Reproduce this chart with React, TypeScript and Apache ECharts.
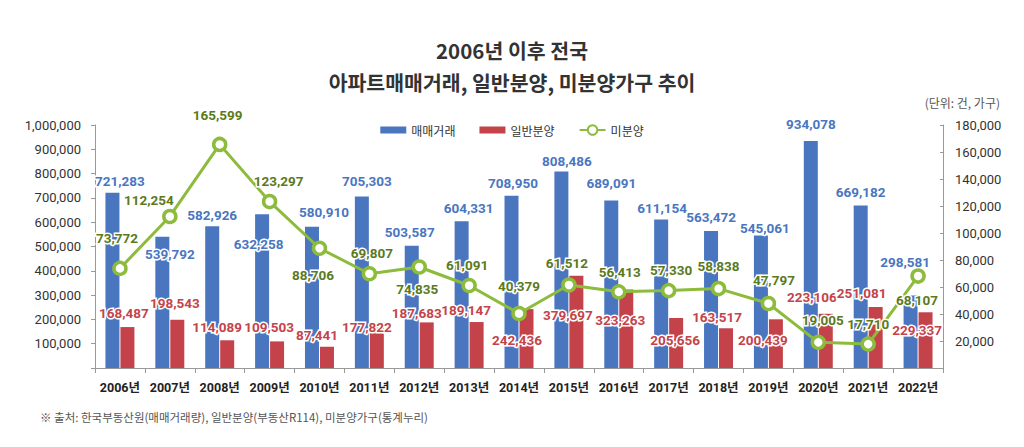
import React, { useEffect, useRef } from 'react';
import * as echarts from 'echarts';

const categories = ['2006년', '2007년', '2008년', '2009년', '2010년', '2011년', '2012년', '2013년', '2014년', '2015년', '2016년', '2017년', '2018년', '2019년', '2020년', '2021년', '2022년'];
const tradeVolume = [721283, 539792, 582926, 632258, 580910, 705303, 503587, 604331, 708950, 808486, 689091, 611154, 563472, 545061, 934078, 669182, 298581];
const generalSupply = [168487, 198543, 114089, 109503, 87441, 177822, 187683, 189147, 242436, 379697, 323263, 205656, 163517, 200439, 223106, 251081, 229337];
const unsold = [73772, 112254, 165599, 123297, 88706, 69807, 74835, 61091, 40379, 61512, 56413, 57330, 58838, 47797, 19005, 17710, 68107];

const seriesNames = ['매매거래', '일반분양', '미분양'];
const titleLine1 = '2006년 이후 전국';
const titleLine2 = '아파트매매거래, 일반분양, 미분양가구 추이';
const unitText = '(단위: 건, 가구)';
const sourceText = '※ 출처: 한국부동산원(매매거래량), 일반분양(부동산R114), 미분양가구(통계누리)';

// label placement (offsets in px), separate from the data
const tradeLabelOffset = [[7.5, -4], [7.5, 25], [0, -3], [-3.5, 38], [12, -7], [5, -8], [-2, -6], [7, -5], [1.5, -5], [5.5, -2.5], [0, -9.5], [1, -3.5], [0, -6], [4, 0], [0, -9], [0, -5.5], [-5.5, -25]];
const supplyLabelOffset = [[-3.5, -6], [-2.5, -9], [-10, -5], [-8, -6.5], [-10, -4], [-10, 10], [-10, -1.5], [-10.5, -4], [-9.5, 39], [-8.5, 47], [-6, 38.5], [-1, 30], [-9, -3], [-13, 29], [-14, -9], [-14, -6], [-8.5, 26]];
const unsoldLabelOffset = [[-3, -30], [-21, -16.5], [-2, -29], [9, -20.5], [-6.5, 27], [2.5, -21], [-2, 22], [-2, -20.5], [0, -27.5], [-2, -22], [1, -20], [2.5, -20.5], [0, -22.5], [5.5, -23.5], [4.5, -22.5], [0, -20], [-1, 24]];

const NARROW = "Roboto, 'Noto Sans CJK KR', sans-serif";
const KR = "'Noto Sans CJK KR', sans-serif";
const BLUE = '#4a76c0';
const RED = '#c4434a';
const GREEN = '#8dbb3c';
const GREEN_TEXT = '#5b7a1c';

const fmt = (v: number) => v.toLocaleString('en-US');

export default function App() {
  const ref = useRef<HTMLDivElement>(null);
  useEffect(() => {
    if (!ref.current) return;
    const chart = echarts.init(ref.current, null, { renderer: 'svg' });
    const valueLabel = (color: string) => ({
      show: true,
      fontFamily: NARROW,
      fontWeight: 'bold',
      fontSize: 13.5,
      lineHeight: 16,
      color,
      textBorderColor: '#fff',
      textBorderWidth: 3,
      formatter: (p: any) => fmt(p.value),
    });
    const titleStyle = { fontFamily: KR, fontWeight: 'bold', fontSize: 20.5, lineHeight: 24, color: '#333' };
    chart.setOption({
      animation: false,
      backgroundColor: '#fff',
      title: [
        { text: titleLine1, left: 'center', top: 38, padding: 0, textStyle: titleStyle },
        { text: titleLine2, left: 'center', top: 70, padding: 0, textStyle: titleStyle },
      ],
      legend: {
        top: 119,
        left: 'center',
        itemWidth: 26,
        itemHeight: 12,
        itemGap: 24,
        textStyle: { fontFamily: KR, fontSize: 12, color: '#333' },
        data: [
          { name: seriesNames[0], icon: 'path://M0,0H26V7H0Z' },
          { name: seriesNames[1], icon: 'path://M0,0H26V7H0Z' },
          { name: seriesNames[2] },
        ],
      },
      grid: { left: 95, right: 81, top: 125, bottom: 79, outerBoundsMode: 'none' },
      xAxis: {
        type: 'category',
        data: categories,
        axisLine: { lineStyle: { color: '#999' } },
        axisTick: { show: true, length: 5, lineStyle: { color: '#999' } },
        axisLabel: { interval: 0, fontFamily: NARROW, fontWeight: 'bold', fontSize: 12.5, color: '#222', margin: 13 },
      },
      yAxis: [
        {
          type: 'value',
          min: 0,
          max: 1000000,
          interval: 100000,
          splitLine: { show: false },
          axisLine: { show: true, lineStyle: { color: '#999' } },
          axisTick: { show: true, length: 4, lineStyle: { color: '#999' } },
          axisLabel: { fontFamily: NARROW, fontSize: 13, color: '#333', margin: 14, formatter: (v: number) => (v === 0 ? '' : fmt(v)) },
        },
        {
          type: 'value',
          min: 0,
          max: 180000,
          interval: 20000,
          splitLine: { show: false },
          axisLine: { show: true, lineStyle: { color: '#999' } },
          axisTick: { show: true, inside: true, length: 3, lineStyle: { color: '#999' } },
          axisLabel: { fontFamily: NARROW, fontSize: 13, color: '#333', margin: 12, formatter: (v: number) => (v === 0 ? '' : fmt(v)) },
        },
      ],
      series: [
        {
          name: seriesNames[0],
          type: 'bar',
          yAxisIndex: 0,
          barWidth: 14,
          barGap: '7%',
          itemStyle: { color: BLUE },
          label: { ...valueLabel(BLUE), position: 'top', distance: 0 },
          data: tradeVolume.map((v, i) => ({ value: v, label: { offset: tradeLabelOffset[i] } })),
          z: 2,
        },
        {
          name: seriesNames[1],
          type: 'bar',
          yAxisIndex: 0,
          barWidth: 14,
          itemStyle: { color: RED },
          label: { ...valueLabel(RED), position: 'top', distance: 0 },
          data: generalSupply.map((v, i) => ({ value: v, label: { offset: supplyLabelOffset[i] } })),
          z: 2,
        },
        {
          name: seriesNames[2],
          type: 'line',
          yAxisIndex: 1,
          symbol: 'circle',
          symbolSize: 12,
          lineStyle: { color: GREEN, width: 3 },
          itemStyle: { color: '#fff', borderColor: GREEN, borderWidth: 3.5 },
          label: { ...valueLabel(GREEN_TEXT), position: 'inside' },
          data: unsold.map((v, i) => ({ value: v, label: { offset: unsoldLabelOffset[i] } })),
          z: 5,
        },
      ],
      graphic: [
        {
          type: 'text',
          right: 24,
          top: 96,
          style: { text: unitText, fontFamily: KR, fontSize: 12, fill: '#555' },
        },
        {
          type: 'text',
          left: 40,
          top: 411,
          style: { text: sourceText, fontFamily: KR, fontSize: 11.5, fill: '#555' },
        },
      ],
    });
    return () => chart.dispose();
  }, []);
  return <div ref={ref} style={{ position: 'fixed', left: 0, top: 0, width: 1024, height: 447 }} />;
}
